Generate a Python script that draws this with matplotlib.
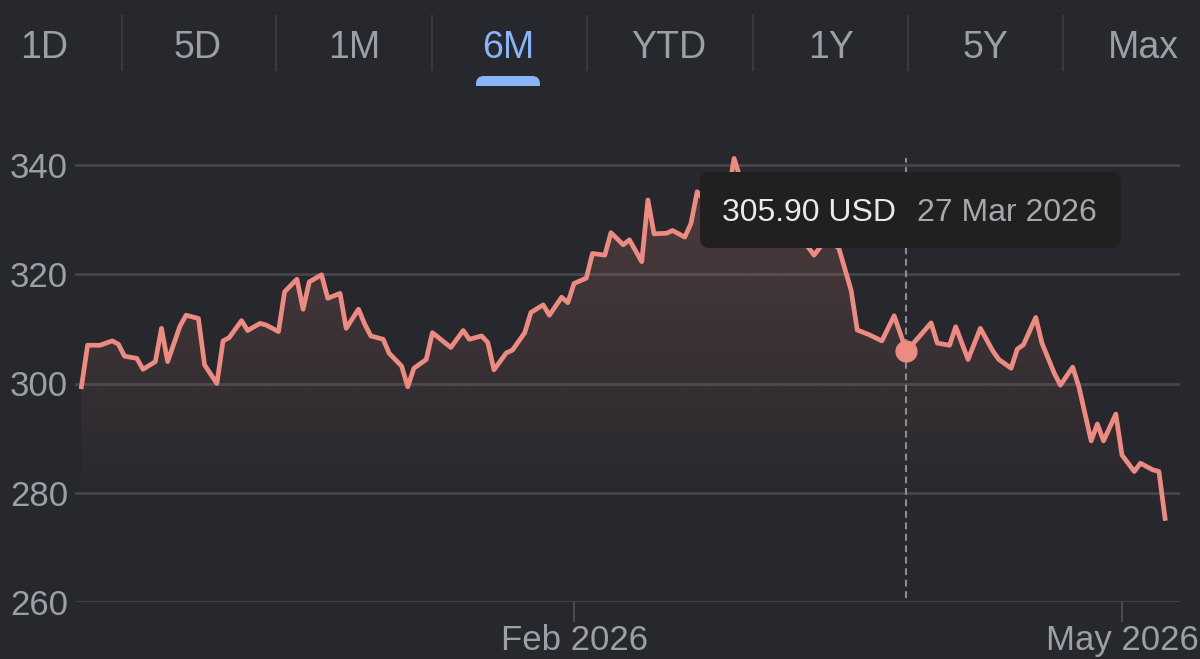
import numpy as np
import pandas as pd
import matplotlib
matplotlib.use("Agg")
import matplotlib.pyplot as plt
import matplotlib.dates as mdates
from matplotlib.patches import FancyBboxPatch, Polygon, Rectangle

plt.rcParams['font.family'] = ['Liberation Sans', 'DejaVu Sans']

# --- data ---
dates = [
    "2025-11-13", "2025-11-14", "2025-11-16", "2025-11-18", "2025-11-19", "2025-11-20",
    "2025-11-22", "2025-11-23", "2025-11-25", "2025-11-26", "2025-11-27", "2025-11-29",
    "2025-11-30", "2025-12-02", "2025-12-03", "2025-12-05", "2025-12-06", "2025-12-07",
    "2025-12-09", "2025-12-10", "2025-12-12", "2025-12-13", "2025-12-15", "2025-12-16",
    "2025-12-18", "2025-12-19", "2025-12-20", "2025-12-22", "2025-12-23", "2025-12-25",
    "2025-12-26", "2025-12-28", "2025-12-29", "2025-12-30", "2026-01-01", "2026-01-02",
    "2026-01-04", "2026-01-05", "2026-01-06", "2026-01-08", "2026-01-09", "2026-01-11",
    "2026-01-12", "2026-01-14", "2026-01-15", "2026-01-17", "2026-01-18", "2026-01-19",
    "2026-01-21", "2026-01-22", "2026-01-24", "2026-01-25", "2026-01-27", "2026-01-28",
    "2026-01-30", "2026-01-31", "2026-02-01", "2026-02-03", "2026-02-04", "2026-02-06",
    "2026-02-07", "2026-02-09", "2026-02-10", "2026-02-12", "2026-02-13", "2026-02-14",
    "2026-02-16", "2026-02-17", "2026-02-19", "2026-02-20", "2026-02-21", "2026-02-23",
    "2026-02-24", "2026-02-26", "2026-02-27", "2026-03-01", "2026-03-02", "2026-03-04",
    "2026-03-05", "2026-03-07", "2026-03-08", "2026-03-09", "2026-03-11", "2026-03-12",
    "2026-03-14", "2026-03-16", "2026-03-18", "2026-03-19", "2026-03-21", "2026-03-23",
    "2026-03-25", "2026-03-27", "2026-03-31", "2026-04-01", "2026-04-03", "2026-04-04",
    "2026-04-06", "2026-04-08", "2026-04-10", "2026-04-11", "2026-04-13", "2026-04-14",
    "2026-04-15", "2026-04-17", "2026-04-18", "2026-04-20", "2026-04-21", "2026-04-23",
    "2026-04-24", "2026-04-26", "2026-04-27", "2026-04-28", "2026-04-30", "2026-05-01",
    "2026-05-03", "2026-05-04", "2026-05-06", "2026-05-07", "2026-05-08",
]
prices = [
    299.4, 307.0, 307.0, 307.8, 307.2, 305.0,
    304.6, 302.6, 304.0, 310.1, 304.0, 310.5,
    312.5, 311.9, 303.4, 300.0, 307.8, 308.4,
    311.5, 309.7, 311.0, 310.7, 309.5, 316.8,
    319.1, 313.6, 318.6, 319.9, 315.6, 316.5,
    310.1, 313.6, 310.9, 308.7, 308.1, 305.5,
    303.2, 299.4, 302.8, 304.4, 309.3, 307.5,
    306.6, 309.7, 308.1, 308.7, 307.5, 302.5,
    305.6, 306.1, 309.3, 313.0, 314.4, 312.5,
    315.8, 314.8, 318.3, 319.3, 323.8, 323.5,
    327.6, 325.4, 326.3, 322.3, 333.6, 327.4,
    327.5, 328.0, 326.8, 329.3, 335.1, 332.5,
    336.5, 334.5, 341.2, 334.0, 336.0, 331.0,
    332.5, 329.0, 330.0, 326.5, 325.0, 323.5,
    326.5, 324.8, 317.1, 309.8, 308.9, 307.8,
    312.4, 305.9, 311.1, 307.4, 307.0, 310.4,
    304.4, 310.1, 306.0, 304.4, 302.8, 306.3,
    307.1, 312.1, 307.4, 301.9, 299.7, 303.0,
    299.4, 289.5, 292.6, 289.5, 294.4, 286.9,
    283.9, 285.4, 284.2, 283.9, 275.3,
]

tabs = ["1D", "5D", "1M", "6M", "YTD", "1Y", "5Y", "Max"]
active_tab = "6M"
y_ticks = [260, 280, 300, 320, 340]
x_tick_dates = ["2026-02-01", "2026-05-01"]
x_tick_labels = ["Feb 2026", "May 2026"]
hover_date = "2026-03-27"
hover_price = 305.90
currency = "USD"

# --- style ---
BG = "#27282d"
GRID = "#45464b"
MUTED = "#9aa0a6"
LINE = "#ee8b80"
BLUE = "#8ab4f8"

W, H = 1200, 659
fig = plt.figure(figsize=(W / 100, H / 100), dpi=100, facecolor=BG)

# main chart axes, placed in pixels
left, right, top, bottom = 75, 1180, 140, 602
ax = fig.add_axes([left / W, 1 - bottom / H, (right - left) / W, (bottom - top) / H])
ax.set_facecolor(BG)

x = mdates.date2num(pd.to_datetime(dates))
feb = mdates.date2num(pd.Timestamp(x_tick_dates[0]))
px_per_day = 6.157
ax.set_xlim(feb + (left - 574) / px_per_day, feb + (right - 574) / px_per_day)
px_per_unit = 5.4625
ax.set_ylim(260, 340 + (165 - top) / px_per_unit)
y0, y1 = ax.get_ylim()

for s in ax.spines.values():
    s.set_visible(False)

ax.set_yticks(y_ticks)
ax.yaxis.grid(True, color=GRID, lw=2)
ax.set_axisbelow(True)
ax.tick_params(axis="y", length=0, pad=5, labelsize=25, labelcolor=MUTED)

ax.set_xticks(mdates.date2num(pd.to_datetime(x_tick_dates)))
ax.set_xticklabels(x_tick_labels)
ax.tick_params(axis="x", length=14.5, width=1.5, color="#4a4b50", pad=1,
               labelsize=25, labelcolor=MUTED)

# gradient fill under the line
vals = np.linspace(y1, y0, 300)
alpha = 0.2 * np.clip((vals - 276) / (340 - 276), 0, 1)
rgba = np.zeros((300, 1, 4))
rgba[..., :3] = matplotlib.colors.to_rgb(LINE)
rgba[:, 0, 3] = alpha
im = ax.imshow(rgba, extent=[x[0], x[-1], y0, y1], aspect="auto", zorder=1,
               interpolation="bilinear")
verts = list(zip(x, prices)) + [(x[-1], y0), (x[0], y0)]
clip = Polygon(verts, closed=True, fc="none", ec="none", transform=ax.transData)
ax.add_patch(clip)
im.set_clip_path(clip)

ax.plot(x, prices, color=LINE, lw=3.4, solid_joinstyle="round", zorder=3)

# hover cursor
hx = mdates.date2num(pd.Timestamp(hover_date))
ax.axvline(hx, ymin=(bottom - 598) / (bottom - top), ymax=(bottom - 158) / (bottom - top),
           color="#8a8d93", lw=1.5, ls=(0, (3.3, 2.2)), zorder=2)
ax.plot([hx], [hover_price], "o", ms=15, color=LINE, mec=LINE, zorder=4)

# overlay in pixel coords for tabs and tooltip
ov = fig.add_axes([0, 0, 1, 1], facecolor="none")
ov.set_xlim(0, W)
ov.set_ylim(H, 0)
ov.axis("off")

tab_x = [44, 198, 354, 508, 669, 831, 985, 1143]
sep_x = [122, 276, 432, 587, 753, 908, 1063]
for t, tx in zip(tabs, tab_x):
    ov.text(tx, 48, t, ha="center", va="center", fontsize=27,
            color=BLUE if t == active_tab else MUTED)
for sx in sep_x:
    ov.plot([sx, sx], [16, 70], color="#3a3b40", lw=1.5)
ai = tabs.index(active_tab)
ov.add_patch(FancyBboxPatch((tab_x[ai] - 32, 76), 64, 20,
                            boxstyle="round,pad=0,rounding_size=8", fc=BLUE, ec="none"))
ov.add_patch(Rectangle((tab_x[ai] - 40, 86), 80, 12, fc=BG, ec="none"))

# tooltip
ov.add_patch(FancyBboxPatch((700, 172), 421, 76, boxstyle="round,pad=0,rounding_size=9",
                            fc="#202021", ec="none", zorder=5))
ov.text(722, 213, f"{hover_price:.2f} {currency}", ha="left", va="center",
        fontsize=23, color="#e8eaed", zorder=6)
ov.text(917, 213, pd.Timestamp(hover_date).strftime("%-d %b %Y"), ha="left", va="center",
        fontsize=23, color="#a5a8ad", zorder=6)

fig.savefig("out.png", dpi=100, facecolor=BG)
